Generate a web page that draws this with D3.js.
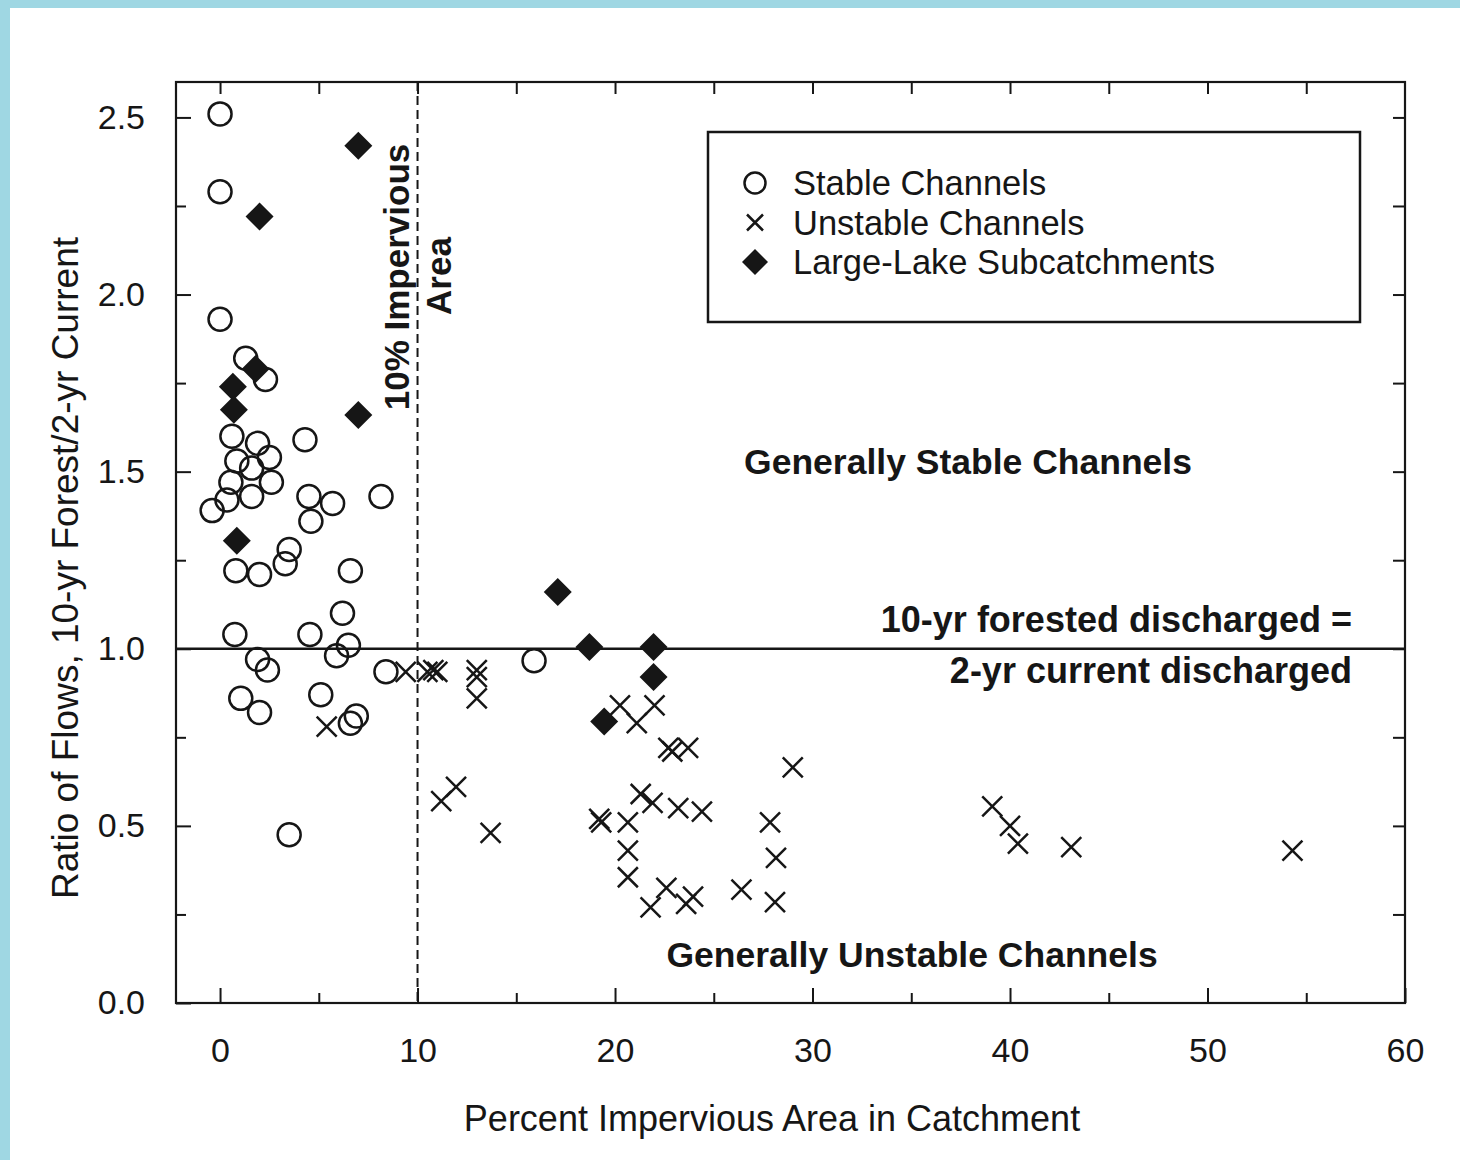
<!DOCTYPE html>
<html>
<head>
<meta charset="utf-8">
<script src="https://cdn.jsdelivr.net/npm/d3@7"></script>
<style>
  body { margin: 0; background: #fff; }
  svg text { font-family: "Liberation Sans", Arial, sans-serif; fill: #161616; }
</style>
</head>
<body>
<svg id="chart" width="1460" height="1160"></svg>
<script>
// percent impervious area, flow ratio
var stable = [
  [0, 2.51], [0, 2.29], [0, 1.93], [1.3, 1.82], [2.3, 1.76], [0.6, 1.60],
  [1.9, 1.58], [4.3, 1.59], [0.85, 1.53], [2.5, 1.54], [1.6, 1.51], [0.55, 1.47],
  [2.6, 1.47], [1.6, 1.43], [0.35, 1.42], [-0.4, 1.39], [4.5, 1.43], [5.7, 1.41],
  [4.6, 1.36], [8.15, 1.43], [3.5, 1.28], [3.3, 1.24], [0.8, 1.22], [2.0, 1.21],
  [6.6, 1.22], [6.2, 1.10], [0.75, 1.04], [4.55, 1.04], [6.5, 1.01], [5.9, 0.98],
  [1.9, 0.97], [2.4, 0.94], [8.4, 0.935], [1.05, 0.86], [5.1, 0.87], [2.0, 0.82],
  [6.9, 0.81], [6.6, 0.79], [3.5, 0.475], [15.9, 0.966]
];
var unstable = [
  [9.4, 0.935], [10.5, 0.935], [10.8, 0.94], [11.0, 0.935], [13.0, 0.94], [13.0, 0.92],
  [13.0, 0.86], [11.2, 0.57], [11.95, 0.61], [13.7, 0.48], [20.25, 0.84], [21.1, 0.79],
  [22.0, 0.84], [22.7, 0.72], [22.9, 0.71], [23.7, 0.72], [19.2, 0.52], [19.3, 0.51],
  [20.65, 0.51], [20.65, 0.43], [21.3, 0.59], [21.9, 0.565], [23.2, 0.55], [24.4, 0.54],
  [20.65, 0.355], [21.8, 0.27], [22.6, 0.325], [23.6, 0.28], [23.95, 0.30], [26.4, 0.32],
  [27.85, 0.51], [28.15, 0.41], [28.1, 0.285], [29.0, 0.665], [39.1, 0.555], [40.0, 0.50],
  [40.4, 0.45], [43.1, 0.44], [54.3, 0.43], [5.4, 0.78]
];
var lake = [
  [7.0, 2.42], [2.0, 2.22], [0.65, 1.74], [0.7, 1.675], [1.8, 1.79], [7.0, 1.66],
  [0.85, 1.305], [17.1, 1.16], [18.7, 1.005], [21.95, 1.005], [21.95, 0.92], [19.45, 0.795]
];
var xTicks = [0, 10, 20, 30, 40, 50, 60];
var yTicks = [0.0, 0.5, 1.0, 1.5, 2.0, 2.5];
var legendLabels = ["Stable Channels", "Unstable Channels", "Large-Lake Subcatchments"];

var svg = d3.select("#chart");
var ink = "#161616";

// scanned page edge
svg.append("rect").attr("x", 0).attr("y", 0).attr("width", 1460).attr("height", 8).attr("fill", "#9fd7e3");
svg.append("rect").attr("x", 0).attr("y", 0).attr("width", 10).attr("height", 1160).attr("fill", "#9fd7e3");

var x = d3.scaleLinear().domain([-2.23, 60]).range([176, 1405]);
var y = d3.scaleLinear().domain([0, 2.6]).range([1003, 82]);

function styleAxis(g) {
  g.select(".domain").remove();
  g.selectAll("line").attr("stroke", ink).attr("stroke-width", 2);
  g.selectAll("text").style("font-size", "34px").attr("fill", ink);
}

// major and minor ticks, pointing inward on all sides
svg.append("g").attr("transform", "translate(0,1003)")
  .call(d3.axisBottom(x).tickValues(xTicks).tickFormat(d3.format("d")).tickSizeInner(-15).tickSizeOuter(0).tickPadding(35))
  .call(styleAxis);
svg.append("g").attr("transform", "translate(0,1003)")
  .call(d3.axisBottom(x).tickValues(d3.range(5, 60, 10)).tickFormat("").tickSizeInner(-10).tickSizeOuter(0))
  .call(styleAxis);
svg.append("g").attr("transform", "translate(0,82)")
  .call(d3.axisTop(x).tickValues(d3.range(0, 60, 5)).tickFormat("").tickSizeInner(-12).tickSizeOuter(0))
  .call(styleAxis);
svg.append("g").attr("transform", "translate(176,0)")
  .call(d3.axisLeft(y).tickValues(yTicks).tickFormat(d3.format(".1f")).tickSizeInner(-15).tickSizeOuter(0).tickPadding(31))
  .call(styleAxis);
svg.append("g").attr("transform", "translate(176,0)")
  .call(d3.axisLeft(y).tickValues(d3.range(0.25, 2.6, 0.5)).tickFormat("").tickSizeInner(-10).tickSizeOuter(0))
  .call(styleAxis);
svg.append("g").attr("transform", "translate(1405,0)")
  .call(d3.axisRight(y).tickValues(d3.range(0.25, 2.6, 0.25)).tickFormat("").tickSizeInner(-12).tickSizeOuter(0))
  .call(styleAxis);

// frame
svg.append("rect")
  .attr("x", x.range()[0]).attr("y", y.range()[1])
  .attr("width", x.range()[1] - x.range()[0]).attr("height", y.range()[0] - y.range()[1])
  .attr("fill", "none").attr("stroke", ink).attr("stroke-width", 2.2);

// reference lines
svg.append("line")
  .attr("x1", x(10)).attr("x2", x(10)).attr("y1", y.range()[1]).attr("y2", y.range()[0])
  .attr("stroke", ink).attr("stroke-width", 2).attr("stroke-dasharray", "9,5");
svg.append("line")
  .attr("x1", x.range()[0]).attr("x2", x.range()[1]).attr("y1", y(1)).attr("y2", y(1))
  .attr("stroke", ink).attr("stroke-width", 2.5);

var crossPath = "M-10,-10L10,10M-10,10L10,-10";
var diamondPath = "M0,-14L14,0L0,14L-14,0Z";

svg.append("g").selectAll("circle")
  .data(stable).enter().append("circle")
  .attr("cx", function(d) { return x(d[0]); })
  .attr("cy", function(d) { return y(d[1]); })
  .attr("r", 11.5)
  .attr("fill", "none").attr("stroke", ink).attr("stroke-width", 2.5);

svg.append("g").selectAll("path")
  .data(unstable).enter().append("path")
  .attr("d", crossPath)
  .attr("transform", function(d) { return "translate(" + [x(d[0]), y(d[1])] + ")"; })
  .attr("fill", "none").attr("stroke", ink).attr("stroke-width", 2.5);

svg.append("g").selectAll("path")
  .data(lake).enter().append("path")
  .attr("d", diamondPath)
  .attr("transform", function(d) { return "translate(" + [x(d[0]), y(d[1])] + ")"; })
  .attr("fill", ink);

// legend
svg.append("rect").attr("x", 708).attr("y", 132).attr("width", 652).attr("height", 190)
  .attr("fill", "white").attr("stroke", ink).attr("stroke-width", 2.5);
var leg = svg.append("g").selectAll("g")
  .data(legendLabels).enter().append("g")
  .attr("transform", function(d, i) { return "translate(755," + (183 + i * 39.5) + ")"; });
leg.filter(function(d, i) { return i == 0; }).append("circle")
  .attr("r", 10.5).attr("fill", "none").attr("stroke", ink).attr("stroke-width", 2.5);
leg.filter(function(d, i) { return i == 1; }).append("path")
  .attr("d", "M-8,-8L8,8M-8,8L8,-8").attr("stroke", ink).attr("stroke-width", 2.5);
leg.filter(function(d, i) { return i == 2; }).append("path")
  .attr("d", "M0,-13L13,0L0,13L-13,0Z").attr("fill", ink);
leg.append("text").attr("x", 38).attr("y", 12).style("font-size", "34.5px").text(function(d) { return d; });

// annotations
function note(tx, ty, anchor, str, bold, size) {
  return svg.append("text").attr("x", tx).attr("y", ty)
    .attr("text-anchor", anchor)
    .style("font-size", (size || 35.5) + "px")
    .style("font-weight", bold ? "bold" : "normal")
    .text(str);
}
note(968, 474, "middle", "Generally Stable Channels", true);
note(1352, 632, "end", "10-yr forested discharged =", true, 36);
note(1352, 683, "end", "2-yr current discharged", true, 36);
note(912, 967, "middle", "Generally Unstable Channels", true);
note(0, 0, "middle", "10% Impervious", true, 35).attr("transform", "translate(409,277) rotate(-90)");
note(0, 0, "middle", "Area", true, 35).attr("transform", "translate(451,276) rotate(-90)");

// axis titles
note(772, 1131, "middle", "Percent Impervious Area in Catchment", false, 36);
note(0, 0, "middle", "Ratio of Flows, 10-yr Forest/2-yr  Current", false, 37).attr("transform", "translate(78,568) rotate(-90)");
</script>
</body>
</html>
